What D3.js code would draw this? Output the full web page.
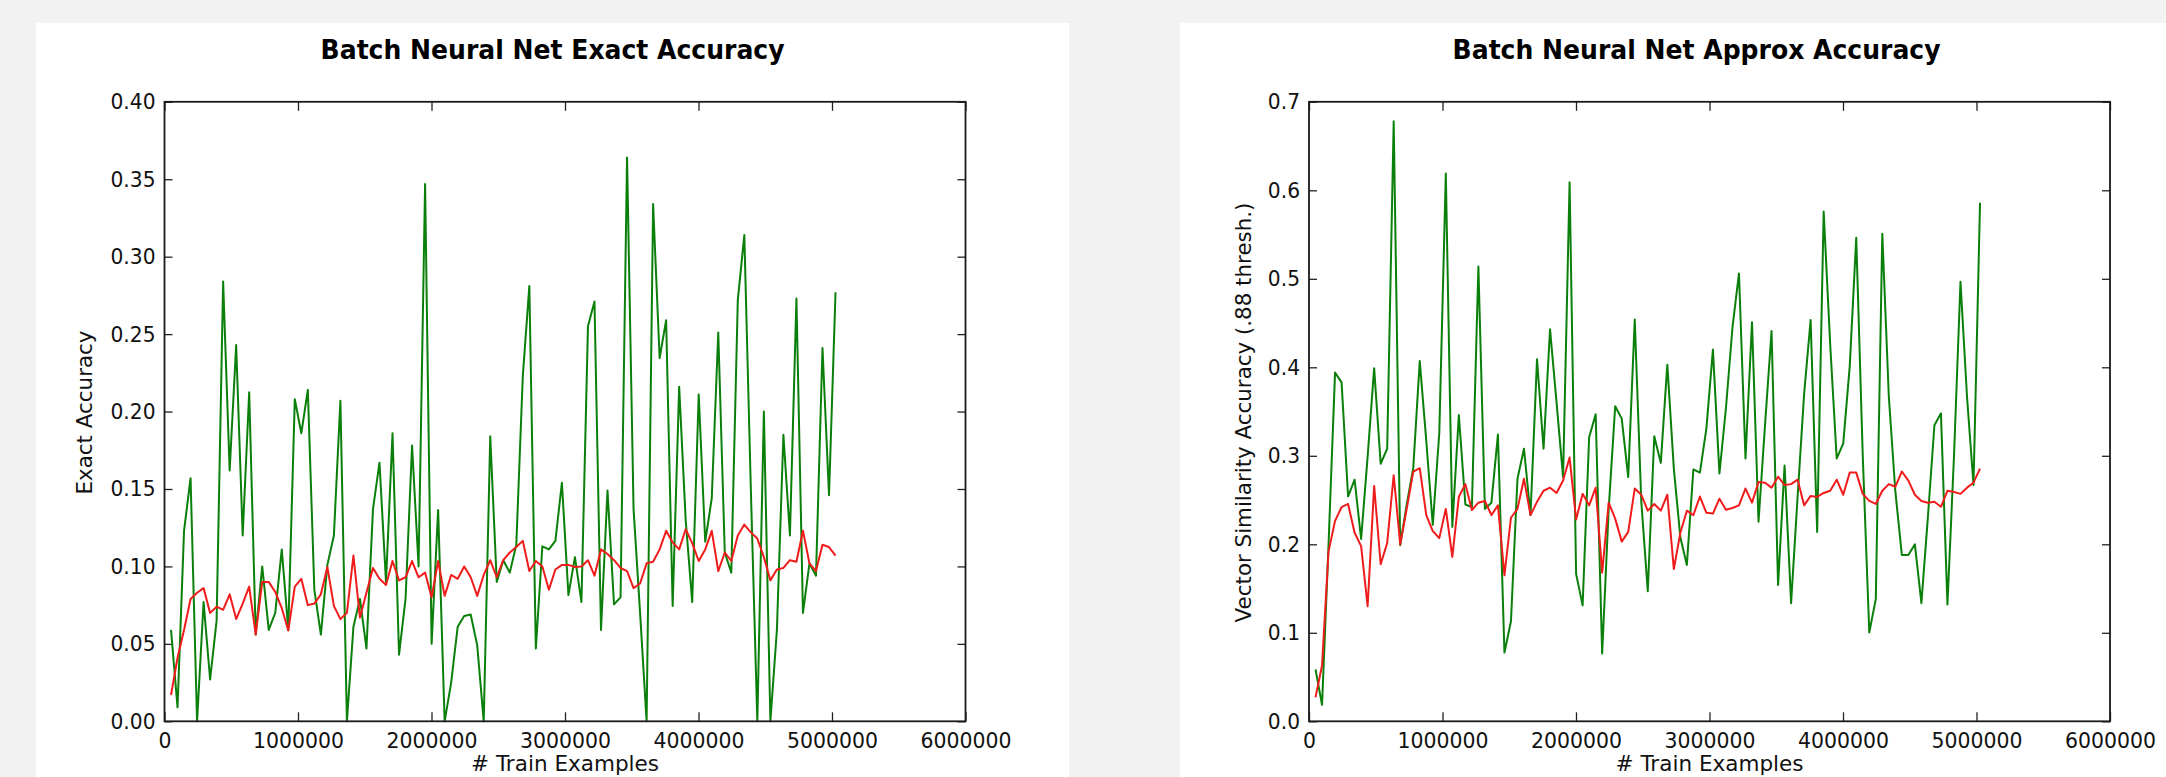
<!DOCTYPE html>
<html><head><meta charset="utf-8">
<script src="https://cdn.jsdelivr.net/npm/d3@7"></script>
<style>
html,body{margin:0;padding:0;background:#f2f2f2;}
svg{display:block;}
</style></head><body>
<svg id="chart" width="2166" height="777"></svg>
<script>
// ---- data ----
const trainExamples = [48800, 97600, 146400, 195200, 244000, 292800, 341600, 390400, 439200, 488000,
 536800, 585600, 634400, 683200, 732000, 780800, 829600, 878400, 927200, 976000,
 1024800, 1073600, 1122400, 1171200, 1220000, 1268800, 1317600, 1366400, 1415200, 1464000,
 1512800, 1561600, 1610400, 1659200, 1708000, 1756800, 1805600, 1854400, 1903200, 1952000,
 2000800, 2049600, 2098400, 2147200, 2196000, 2244800, 2293600, 2342400, 2391200, 2440000,
 2488800, 2537600, 2586400, 2635200, 2684000, 2732800, 2781600, 2830400, 2879200, 2928000,
 2976800, 3025600, 3074400, 3123200, 3172000, 3220800, 3269600, 3318400, 3367200, 3416000,
 3464800, 3513600, 3562400, 3611200, 3660000, 3708800, 3757600, 3806400, 3855200, 3904000,
 3952800, 4001600, 4050400, 4099200, 4148000, 4196800, 4245600, 4294400, 4343200, 4392000,
 4440800, 4489600, 4538400, 4587200, 4636000, 4684800, 4733600, 4782400, 4831200, 4880000,
 4928800, 4977600, 5026400];

const exactBatch = [0.059, 0.009, 0.123, 0.157, 0.000, 0.077, 0.027, 0.065, 0.284, 0.162,
 0.243, 0.120, 0.2125, 0.056, 0.100, 0.059, 0.070, 0.111, 0.059, 0.208,
 0.186, 0.214, 0.085, 0.056, 0.101, 0.120, 0.207, 0.000, 0.061, 0.079,
 0.047, 0.137, 0.167, 0.090, 0.186, 0.043, 0.079, 0.178, 0.100, 0.347,
 0.050, 0.1365, 0.000, 0.025, 0.061, 0.068, 0.069, 0.049, 0.000, 0.184,
 0.090, 0.104, 0.096, 0.114, 0.223, 0.281, 0.047, 0.113, 0.111, 0.1165,
 0.154, 0.0815, 0.106, 0.077, 0.255, 0.271, 0.059, 0.149, 0.0755, 0.080,
 0.364, 0.137, 0.070, 0.000, 0.334, 0.2345, 0.259, 0.0745, 0.216, 0.130,
 0.077, 0.211, 0.116, 0.144, 0.251, 0.109, 0.096, 0.272, 0.314, 0.150,
 0.000, 0.200, 0.000, 0.059, 0.185, 0.120, 0.273, 0.070, 0.102, 0.094,
 0.241, 0.146, 0.277];

const exactAvg = [0.017, 0.041, 0.059, 0.079, 0.083, 0.086, 0.070, 0.074, 0.072, 0.082,
 0.066, 0.076, 0.087, 0.056, 0.090, 0.090, 0.0835, 0.073, 0.0586, 0.087,
 0.092, 0.075, 0.076, 0.082, 0.0996, 0.0745, 0.066, 0.070, 0.107, 0.067,
 0.083, 0.099, 0.092, 0.088, 0.1035, 0.091, 0.093, 0.1035, 0.093, 0.096,
 0.080, 0.1035, 0.081, 0.0945, 0.092, 0.100, 0.093, 0.081, 0.0945, 0.104,
 0.093, 0.104, 0.109, 0.1125, 0.1165, 0.097, 0.1035, 0.100, 0.085, 0.098,
 0.101, 0.101, 0.0996, 0.100, 0.104, 0.094, 0.111, 0.108, 0.104, 0.099,
 0.097, 0.086, 0.089, 0.102, 0.103, 0.111, 0.123, 0.1155, 0.111, 0.124,
 0.115, 0.1035, 0.111, 0.123, 0.097, 0.109, 0.1035, 0.120, 0.127, 0.122,
 0.118, 0.106, 0.091, 0.098, 0.099, 0.104, 0.103, 0.123, 0.102, 0.097,
 0.114, 0.1125, 0.107];

const approxBatch = [0.0586, 0.0186, 0.200, 0.394, 0.383, 0.254, 0.273, 0.206, 0.299, 0.399,
 0.291, 0.308, 0.678, 0.199, 0.245, 0.286, 0.407, 0.317, 0.222, 0.326,
 0.619, 0.2197, 0.346, 0.245, 0.242, 0.514, 0.240, 0.247, 0.324, 0.0776,
 0.113, 0.274, 0.308, 0.233, 0.409, 0.308, 0.443, 0.360, 0.276, 0.609,
 0.1666, 0.131, 0.321, 0.347, 0.0767, 0.240, 0.356, 0.342, 0.276, 0.454,
 0.249, 0.147, 0.322, 0.292, 0.403, 0.2855, 0.208, 0.1766, 0.2846, 0.281,
 0.331, 0.420, 0.280, 0.354, 0.445, 0.506, 0.297, 0.451, 0.2256, 0.335,
 0.441, 0.154, 0.289, 0.1335, 0.254, 0.370, 0.4535, 0.214, 0.576, 0.426,
 0.297, 0.3137, 0.401, 0.5465, 0.300, 0.1003, 0.138, 0.551, 0.367, 0.260,
 0.188, 0.188, 0.200, 0.1335, 0.231, 0.3345, 0.348, 0.132, 0.299, 0.4966,
 0.367, 0.267, 0.586];

const approxAvg = [0.027, 0.063, 0.192, 0.2265, 0.242, 0.2456, 0.213, 0.198, 0.130, 0.266,
 0.1775, 0.2015, 0.278, 0.200, 0.240, 0.282, 0.286, 0.233, 0.215, 0.207,
 0.240, 0.1857, 0.2537, 0.268, 0.2388, 0.247, 0.249, 0.233, 0.244, 0.165,
 0.230, 0.240, 0.274, 0.233, 0.248, 0.2605, 0.264, 0.258, 0.272, 0.298,
 0.228, 0.257, 0.244, 0.264, 0.168, 0.247, 0.229, 0.203, 0.214, 0.263,
 0.256, 0.238, 0.2456, 0.238, 0.256, 0.172, 0.213, 0.238, 0.233, 0.254,
 0.2356, 0.2347, 0.2515, 0.239, 0.241, 0.244, 0.263, 0.247, 0.2705, 0.2696,
 0.264, 0.2764, 0.267, 0.268, 0.273, 0.244, 0.2547, 0.2535, 0.258, 0.2605,
 0.273, 0.256, 0.281, 0.281, 0.257, 0.249, 0.2456, 0.2605, 0.268, 0.265,
 0.2823, 0.272, 0.256, 0.249, 0.247, 0.248, 0.2424, 0.2605, 0.259, 0.257,
 0.264, 0.2696, 0.2855];

const xTickValues = [0, 1000000, 2000000, 3000000, 4000000, 5000000, 6000000];
const exactTickValues = [0, 0.05, 0.10, 0.15, 0.20, 0.25, 0.30, 0.35, 0.40];
const approxTickValues = [0, 0.1, 0.2, 0.3, 0.4, 0.5, 0.6, 0.7];

const titles = ["Batch Neural Net Exact Accuracy", "Batch Neural Net Approx Accuracy"];
const yLabels = ["Exact Accuracy", "Vector Similarity Accuracy (.88 thresh.)"];
const xLabel = "# Train Examples";

// ---- drawing ----
const FONT = "'DejaVu Sans', 'Bitstream Vera Sans', sans-serif";
const svg = d3.select("#chart");
svg.append("rect").attr("width", 2166).attr("height", 777).attr("fill", "#f2f2f2");

const panels = [
  { box: [36, 23, 1033, 760], l: 164.5, r: 965.5, t: 101.8, b: 721.3,
    title: titles[0], titleX: 552.6, titleW: 464, ylabel: yLabels[0], ylabelX: 92,
    yMax: 0.4, yTicks: exactTickValues, fmt: ".2f", batch: exactBatch, avg: exactAvg },
  { box: [1180, 23, 990, 760], l: 1309, r: 2110, t: 101.8, b: 721.3,
    title: titles[1], titleX: 1696.6, titleW: 488, ylabel: yLabels[1], ylabelX: 1251,
    yMax: 0.7, yTicks: approxTickValues, fmt: ".1f", batch: approxBatch, avg: approxAvg }
];

function squeeze(sel, k) {
  sel.each(function () {
    const w = this.getComputedTextLength();
    if (w > 0) d3.select(this).attr("textLength", w * k).attr("lengthAdjust", "spacingAndGlyphs");
  });
}

panels.forEach(p => {
  svg.append("rect").attr("x", p.box[0]).attr("y", p.box[1])
    .attr("width", p.box[2]).attr("height", p.box[3]).attr("fill", "#ffffff");

  const x = d3.scaleLinear().domain([0, 6000000]).range([p.l, p.r]);
  const y = d3.scaleLinear().domain([0, p.yMax]).range([p.b, p.t]);

  const styleAxis = g => {
    g.select(".domain").remove();
    g.attr("color", "#222");
    g.selectAll(".tick line").attr("stroke-width", 1.3);
    g.selectAll("text").attr("font-family", FONT).attr("font-size", "21.5px").attr("fill", "#111");
  };

  const gl = svg.append("g").attr("transform", `translate(${p.l},0)`)
    .call(d3.axisLeft(y).tickValues(p.yTicks).tickFormat(d3.format(p.fmt)).tickSizeInner(-8).tickSizeOuter(0).tickPadding(9));
  styleAxis(gl); squeeze(gl.selectAll("text"), 0.94);

  svg.append("g").attr("transform", `translate(${p.r},0)`)
    .call(d3.axisRight(y).tickValues(p.yTicks).tickFormat("").tickSizeInner(-8).tickSizeOuter(0)).call(styleAxis);

  const gb = svg.append("g").attr("transform", `translate(0,${p.b})`)
    .call(d3.axisBottom(x).tickValues(xTickValues).tickFormat(d3.format("d")).tickSizeInner(-9).tickSizeOuter(0).tickPadding(11));
  styleAxis(gb); squeeze(gb.selectAll("text"), 0.95);

  svg.append("g").attr("transform", `translate(0,${p.t})`)
    .call(d3.axisTop(x).tickValues(xTickValues).tickFormat("").tickSizeInner(-9).tickSizeOuter(0)).call(styleAxis);

  const line = d3.line().x((d, i) => x(trainExamples[i])).y(d => y(d));
  svg.append("path").datum(p.batch).attr("d", line)
    .attr("fill", "none").attr("stroke", "#0a800a").attr("stroke-width", 2).attr("stroke-linejoin", "round");
  svg.append("path").datum(p.avg).attr("d", line)
    .attr("fill", "none").attr("stroke", "#f01c1c").attr("stroke-width", 2).attr("stroke-linejoin", "round");

  svg.append("rect").attr("x", p.l).attr("y", p.t).attr("width", p.r - p.l).attr("height", p.b - p.t)
    .attr("fill", "none").attr("stroke", "#1a1a1a").attr("stroke-width", 1.8);

  svg.append("text").text(p.title).attr("x", p.titleX).attr("y", 58.5)
    .attr("text-anchor", "middle").attr("font-family", FONT).attr("font-weight", "bold")
    .attr("font-size", "26px").attr("fill", "#000")
    .attr("textLength", p.titleW).attr("lengthAdjust", "spacingAndGlyphs");

  svg.append("text").text(p.ylabel)
    .attr("transform", `translate(${p.ylabelX},412.5) rotate(-90)`)
    .attr("text-anchor", "middle").attr("font-family", FONT).attr("font-size", "21.4px").attr("fill", "#111");

  svg.append("text").text(xLabel).attr("x", (p.l + p.r) / 2).attr("y", 771)
    .attr("text-anchor", "middle").attr("font-family", FONT).attr("font-size", "21.5px").attr("fill", "#111")
    .attr("textLength", 188).attr("lengthAdjust", "spacingAndGlyphs");
});
</script>
</body></html>
